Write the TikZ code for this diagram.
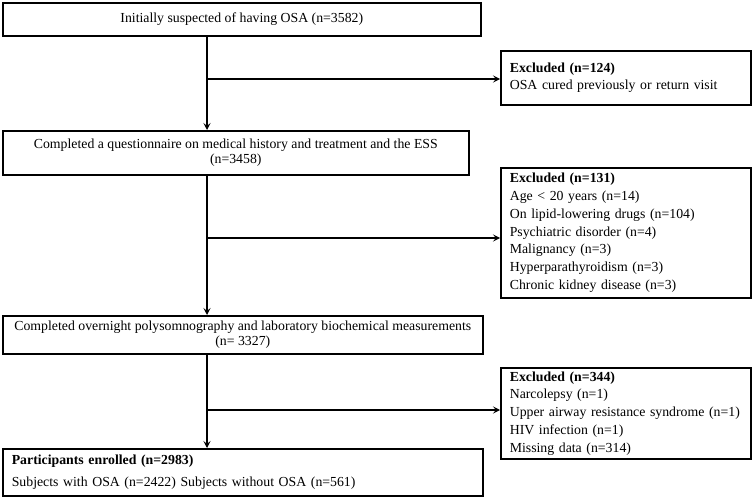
\documentclass[tikz,border=0pt]{standalone}
\usepackage{fontspec}
\setmainfont{Liberation Serif}
\usetikzlibrary{arrows.meta}
\begin{document}
\begin{tikzpicture}[x=1pt,y=-1pt,
  box/.style={draw, line width=1.6pt, inner sep=0pt, anchor=north west, align=center, font=\fontsize{13.8}{15.5}\selectfont},
  exbox/.style={draw, line width=1.6pt, inner xsep=9pt, inner ysep=0pt, anchor=north west, align=left, text width=232pt, minimum width=250pt, font=\fontsize{13.8}{17.8}\selectfont},
  flow/.style={line width=1.6pt, -{Stealth[length=7pt,width=7pt,inset=3pt]}}]
\useasboundingbox (0,0) rectangle (752,497);
\node[box, minimum width=478pt, minimum height=33pt] (b1) at (2,2) {Initially suspected of having OSA (n=3582)};
\node[box, minimum width=466pt, minimum height=44pt] (b2) at (2,130) {Completed a questionnaire on medical history and treatment and the ESS\\(n=3458)};
\node[box, minimum width=480pt, minimum height=38pt] (b3) at (2,315) {Completed overnight polysomnography and laboratory biochemical measurements\\(n= 3327)};
\node[box, minimum width=480pt, minimum height=47pt, align=left, text width=462pt, inner xsep=9pt] (b4) at (2,448) {\textbf{Participants enrolled (n=2983)}\\[7pt]Subjects with OSA (n=2422) Subjects without OSA (n=561)};
\node[exbox, minimum height=54pt] (e1) at (500,50) {\textbf{Excluded (n=124)}\\OSA cured previously or return visit};
\node[exbox, minimum height=130pt] (e2) at (500,167) {\textbf{Excluded (n=131)}\\Age < 20 years (n=14)\\On lipid-lowering drugs (n=104)\\Psychiatric disorder (n=4)\\Malignancy (n=3)\\Hyperparathyroidism (n=3)\\Chronic kidney disease (n=3)};
\node[exbox, minimum height=91pt] (e3) at (500,367) {\textbf{Excluded (n=344)}\\Narcolepsy (n=1)\\Upper airway resistance syndrome (n=1)\\HIV infection (n=1)\\Missing data (n=314)};
\coordinate (sp) at (207,0);
\coordinate (j1) at (207,79);
\coordinate (j2) at (207,238);
\coordinate (j3) at (207,410);
\draw[flow] (b1.south -| sp) -- (b2.north -| sp);
\draw[flow] (b2.south -| sp) -- (b3.north -| sp);
\draw[flow] (b3.south -| sp) -- (b4.north -| sp);
\draw[flow] (j1) -- (j1 -| e1.west);
\draw[flow] (j2) -- (j2 -| e2.west);
\draw[flow] (j3) -- (j3 -| e3.west);
\end{tikzpicture}
\end{document}
